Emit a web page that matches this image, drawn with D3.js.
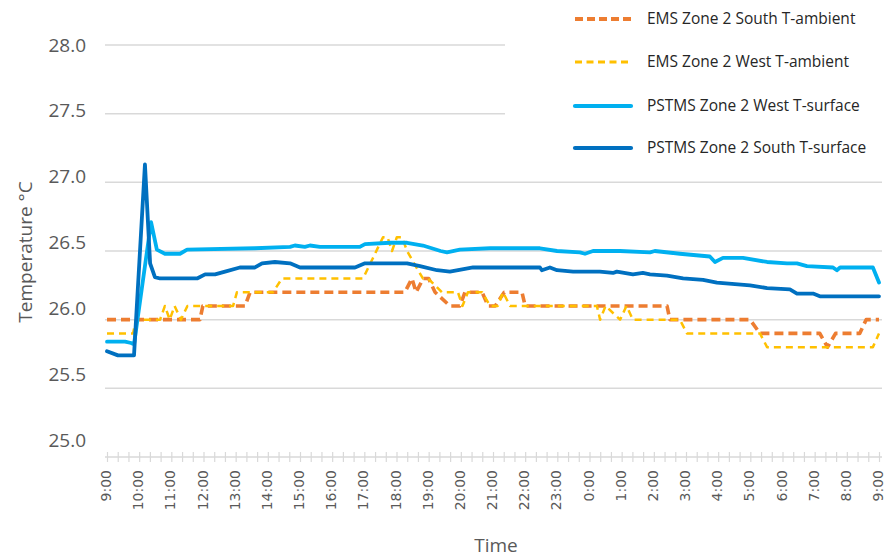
<!DOCTYPE html>
<html>
<head>
<meta charset="utf-8">
<script src="https://cdn.jsdelivr.net/npm/d3@7"></script>
<style>
  html, body { margin: 0; padding: 0; background: #fff; }
  svg { display: block; }
</style>
</head>
<body>
<svg id="chart" width="886" height="557"></svg>
<script>
// Time axis: hours elapsed since 9:00 on the first day (0 … 24)
const hourLabels = ["9:00","10:00","11:00","12:00","13:00","14:00","15:00","16:00","17:00",
  "18:00","19:00","20:00","21:00","22:00","23:00","0:00","1:00","2:00","3:00","4:00",
  "5:00","6:00","7:00","8:00","9:00"];
const tempTicks = [25.0, 25.5, 26.0, 26.5, 27.0, 27.5, 28.0];

// Series readings as [hours since 9:00, °C]
const emsSouthAmbient = [
  [0,26.0],[2.89,26.0],[2.98,26.1],[4.29,26.1],[4.45,26.2],[9.26,26.2],[9.48,26.3],[9.61,26.2],
  [9.83,26.3],[10.0,26.3],[10.2,26.2],[10.66,26.1],[10.97,26.1],[11.13,26.2],[11.66,26.2],
  [11.85,26.1],[12.07,26.1],[12.35,26.2],[12.9,26.2],[13.0,26.1],[17.41,26.1],[17.5,26.0],
  [19.99,26.0],[20.3,25.9],[22.16,25.9],[22.4,25.8],[22.65,25.9],[23.4,25.9],[23.6,26.0],[24,26.0]
];
const emsWestAmbient = [
  [0,25.9],[0.81,25.9],[0.9,26.0],[1.65,26.0],[1.8,26.1],[1.95,26.0],[2.1,26.1],[2.3,26.0],
  [2.5,26.1],[3.92,26.1],[4.04,26.2],[5.16,26.2],[5.44,26.3],[7.96,26.3],[8.58,26.6],[8.72,26.6],
  [8.86,26.5],[9.01,26.6],[9.17,26.6],[9.33,26.5],[9.57,26.4],[9.82,26.3],[9.98,26.3],[10.41,26.2],
  [10.91,26.2],[11.05,26.1],[11.22,26.2],[11.66,26.2],[11.91,26.1],[12.15,26.1],[12.31,26.2],
  [12.53,26.1],[15.23,26.1],[15.33,26.0],[15.5,26.1],[15.95,26.0],[16.15,26.1],[16.35,26.0],
  [17.81,26.0],[18.03,25.9],[20.3,25.9],[20.52,25.8],[23.81,25.8],[24,25.9]
];
const pstmsWestSurface = [
  [0,25.84],[0.56,25.84],[0.75,25.83],[0.84,25.82],[1.37,26.71],[1.55,26.51],[1.80,26.48],
  [2.27,26.48],[2.49,26.51],[4.60,26.52],[5.69,26.53],[5.84,26.54],[6.15,26.53],[6.31,26.54],
  [6.62,26.53],[7.86,26.53],[8.02,26.55],[8.80,26.56],[9.33,26.56],[9.82,26.54],[10.37,26.50],
  [10.57,26.49],[10.97,26.51],[11.91,26.52],[13.46,26.52],[13.99,26.50],[14.70,26.49],
  [14.86,26.48],[15.11,26.50],[15.95,26.50],[16.88,26.49],[17.03,26.50],[17.81,26.48],
  [18.74,26.46],[18.90,26.42],[19.15,26.45],[19.77,26.45],[20.52,26.42],[21.14,26.41],
  [21.45,26.41],[21.76,26.39],[22.57,26.38],[22.69,26.36],[22.79,26.38],[23.81,26.38],[24,26.27]
];
const pstmsSouthSurface = [
  [0,25.77],[0.34,25.74],[0.84,25.74],[1.18,27.13],[1.34,26.41],[1.49,26.31],[1.65,26.30],
  [2.80,26.30],[3.05,26.33],[3.36,26.33],[3.67,26.35],[4.13,26.38],[4.60,26.38],[4.82,26.41],
  [5.22,26.42],[5.69,26.41],[6.00,26.38],[7.71,26.38],[8.02,26.41],[9.33,26.41],[9.73,26.39],
  [10.26,26.36],[10.66,26.35],[11.38,26.38],[11.91,26.38],[12.93,26.38],[13.46,26.38],
  [13.52,26.36],[13.77,26.38],[13.99,26.36],[14.49,26.35],[15.32,26.35],[15.73,26.34],
  [15.85,26.35],[16.35,26.33],[16.66,26.34],[16.88,26.33],[17.41,26.32],[17.91,26.30],
  [18.53,26.29],[18.96,26.27],[19.99,26.25],[20.52,26.23],[21.23,26.22],[21.45,26.19],
  [21.95,26.19],[22.16,26.17],[24,26.17]
];

const seriesNames = ["EMS Zone 2 South T-ambient","EMS Zone 2 West T-ambient",
  "PSTMS Zone 2 West T-surface","PSTMS Zone 2 South T-surface"];

const series = [
  { name: seriesNames[0], data: emsSouthAmbient,  color: "#ED7D31", width: 3.6, dash: "9,5",  legendDash: "8,4" },
  { name: seriesNames[1], data: emsWestAmbient,   color: "#FFC000", width: 2.5, dash: "7,5",  legendDash: "7,4.5" },
  { name: seriesNames[2], data: pstmsWestSurface, color: "#00B0F0", width: 3.8, dash: null,   legendDash: null },
  { name: seriesNames[3], data: pstmsSouthSurface,color: "#0070C0", width: 3.8, dash: null,   legendDash: null }
];

const svg = d3.select("#chart");
const gray = "#595959";
const gridColor = "#d9d9d9";

const x = d3.scaleLinear().domain([0, 24]).range([107, 879]);
const y = d3.scaleLinear().domain([25, 28]).range([457, 45]);
// tick labels sit on a slightly tighter spacing than the gridlines
const yLabel = d3.scaleLinear().domain([25, 28]).range([440, 45]);

// horizontal gridlines
svg.append("g")
  .selectAll("line")
  .data(tempTicks.filter(t => t > 25))
  .join("line")
  .attr("x1", 105).attr("x2", 882)
  .attr("y1", d => y(d)).attr("y2", d => y(d))
  .attr("stroke", gridColor).attr("stroke-width", 1.5);

// y tick labels
const yAxis = svg.append("g")
  .attr("transform", "translate(86,0)")
  .call(d3.axisLeft(yLabel).tickValues(tempTicks).tickFormat(d3.format(".1f")).tickSize(0).tickPadding(0));
yAxis.select(".domain").remove();
yAxis.selectAll("text")
  .attr("fill", gray)
  .style("font-family", "'Open Sans', sans-serif")
  .style("font-size", "19px");

// x axis: baseline with crossing minor ticks every 20 minutes
const minorTicks = d3.range(0, 73).map(i => i / 3);
const xMinor = svg.append("g")
  .attr("transform", "translate(0,457)")
  .call(d3.axisBottom(x).tickValues(minorTicks).tickSize(5).tickFormat(""));
xMinor.select(".domain")
  .attr("d", `M105,0H882`)
  .attr("stroke", gridColor).attr("stroke-width", 1.5);
xMinor.selectAll(".tick line")
  .attr("y1", -5).attr("y2", 5)
  .attr("stroke", gridColor).attr("stroke-width", 1.2);

// hour labels, rotated (local y runs left/right after the rotation)
const xLabels = svg.append("g")
  .attr("transform", "translate(0,457)")
  .call(d3.axisBottom(x).tickValues(d3.range(0, 25)).tickFormat(i => hourLabels[i]).tickSize(0));
xLabels.select(".domain").remove();
xLabels.selectAll("text")
  .attr("transform", "rotate(-90)")
  .attr("x", -13).attr("y", -1.5).attr("dy", "0.36em")
  .attr("text-anchor", "end")
  .attr("fill", gray)
  .style("font-family", "'DejaVu Sans', sans-serif")
  .style("font-size", "14px");

// series lines
const line = d3.line().x(d => x(d[0])).y(d => y(d[1]));
svg.append("g")
  .selectAll("path")
  .data(series)
  .join("path")
  .attr("d", d => line(d.data))
  .attr("fill", "none")
  .attr("stroke", d => d.color)
  .attr("stroke-width", d => d.width)
  .attr("stroke-dasharray", d => d.dash)
  .attr("stroke-linejoin", "round")
  .attr("stroke-linecap", d => d.dash ? "butt" : "round");

// axis titles
svg.append("text")
  .attr("transform", "translate(32,252) rotate(-90)")
  .attr("text-anchor", "middle")
  .attr("fill", gray)
  .style("font-family", "'Open Sans', sans-serif")
  .style("font-size", "19px")
  .text("Temperature °C");

svg.append("text")
  .attr("x", 496).attr("y", 552)
  .attr("text-anchor", "middle")
  .attr("fill", gray)
  .style("font-family", "'Open Sans', sans-serif")
  .style("font-size", "19px")
  .text("Time");

// legend
const legend = svg.append("g");
legend.append("rect")
  .attr("x", 505).attr("y", 0).attr("width", 381).attr("height", 168)
  .attr("fill", "#fff");
const rowY = [19, 62, 106, 148];
const items = legend.selectAll("g.item")
  .data(series)
  .join("g")
  .attr("class", "item")
  .attr("transform", (d, i) => `translate(0,${rowY[i]})`);
items.append("line")
  .attr("x1", 575).attr("x2", 631)
  .attr("stroke", d => d.color)
  .attr("stroke-width", d => d.width + 0.4)
  .attr("stroke-dasharray", d => d.legendDash)
  .attr("stroke-linecap", d => d.dash ? "butt" : "round");
items.append("text")
  .attr("x", 647).attr("dy", "0.35em")
  .attr("fill", "#262626")
  .style("font-family", "'Open Sans', sans-serif")
  .style("font-size", "15.5px")
  .text(d => d.name);
</script>
</body>
</html>
